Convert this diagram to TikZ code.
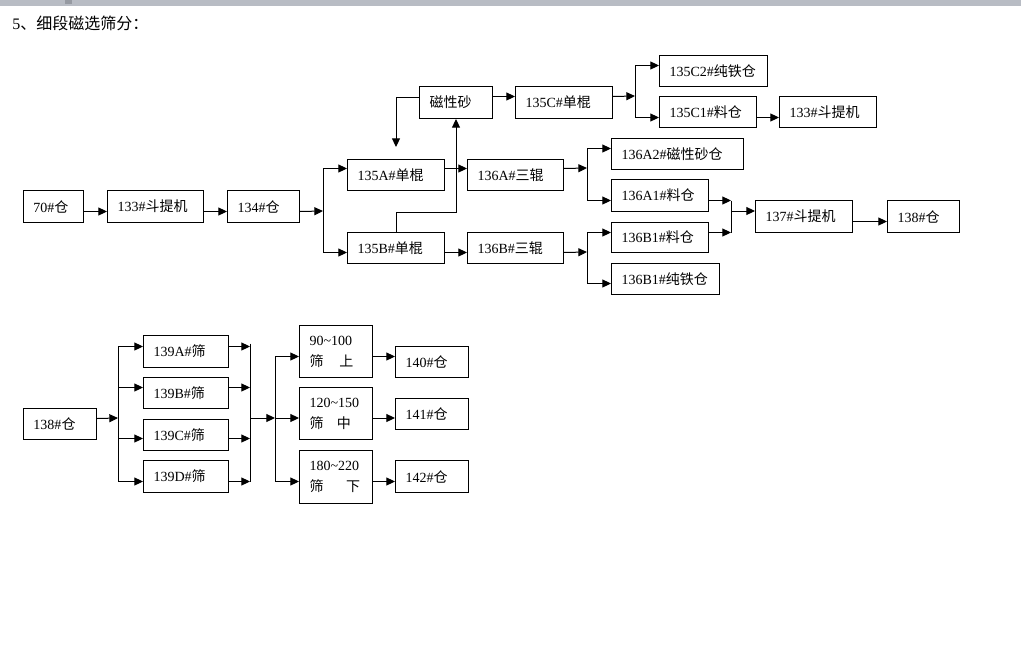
\documentclass[tikz,border=0pt]{standalone}
\usepackage{fontspec}
\setmainfont{Liberation Serif}
\newfontfamily\cjk{Noto Sans CJK SC}
\usetikzlibrary{arrows.meta}
\newcommand{\zh}[1]{{\cjk #1}}
\definecolor{barc}{RGB}{184,188,196}
\definecolor{barmark}{RGB}{150,154,162}
\begin{document}
\begin{tikzpicture}[x=0.75pt,y=-0.75pt,
  bx/.style 2 args={draw=black, line width=0.75pt, inner xsep=7.5pt, inner ysep=0pt,
    anchor=north west, align=left, minimum width={#1*0.75pt}, minimum height={#2*0.75pt},
    text width={(#1-20)*0.75pt}, font=\fontsize{10.5}{15.75}\selectfont},
  arr/.style={draw=black, line width=0.75pt, -{Triangle[length=6.5pt,width=6pt]}},
  ln/.style={draw=black, line width=0.75pt}]
\useasboundingbox (0,0) rectangle (1021,650);
\fill[white] (0,0) rectangle (1021,650);
\fill[barc] (0,0) rectangle (1021,5.5);
\fill[barmark] (65,0) rectangle (72,4);
\node[anchor=west, inner sep=0pt, font=\fontsize{12}{14}\selectfont] (title) at (12,23) {5\zh{、细段磁选筛分：}};

% top flow
\node[bx={60}{32}] (t70) at (23,190) {70\#\zh{仓}};
\node[bx={96}{32}] (b133) at (107,190) {133\#\zh{斗提机}};
\node[bx={72}{32}] (c134) at (227,190) {134\#\zh{仓}};
\node[bx={97}{31}] (a135A) at (347,159) {135A\#\zh{单棍}};
\node[bx={97}{31}] (a135B) at (347,232) {135B\#\zh{单棍}};
\node[bx={73}{32}] (cxs) at (419,86) {\zh{磁性砂}};
\node[bx={97}{32}] (a135C) at (515,86) {135C\#\zh{单棍}};
\node[bx={108}{31}] (c135C2) at (659,55) {135C2\#\zh{纯铁仓}};
\node[bx={97}{31}] (c135C1) at (659,96) {135C1\#\zh{料仓}};
\node[bx={97}{31}] (b133b) at (779,96) {133\#\zh{斗提机}};
\node[bx={96}{31}] (a136A) at (467,159) {136A\#\zh{三辊}};
\node[bx={96}{31}] (a136B) at (467,232) {136B\#\zh{三辊}};
\node[bx={132}{31}] (c136A2) at (611,138) {136A2\#\zh{磁性砂仓}};
\node[bx={97}{32}] (c136A1) at (611,179) {136A1\#\zh{料仓}};
\node[bx={97}{30}] (c136B1) at (611,222) {136B1\#\zh{料仓}};
\node[bx={108}{31}] (c136B1t) at (611,263) {136B1\#\zh{纯铁仓}};
\node[bx={97}{32}] (b137) at (755,200) {137\#\zh{斗提机}};
\node[bx={72}{32}] (c138) at (887,200) {138\#\zh{仓}};

% bottom flow
\node[bx={73}{31}] (d138) at (23,408) {138\#\zh{仓}};
\node[bx={85}{32}] (s139A) at (143,335) {139A\#\zh{筛}};
\node[bx={85}{31}] (s139B) at (143,377) {139B\#\zh{筛}};
\node[bx={85}{31}] (s139C) at (143,419) {139C\#\zh{筛}};
\node[bx={85}{32}] (s139D) at (143,460) {139D\#\zh{筛}};
\node[bx={73}{52}] (g1) at (299,325) {\mbox{90\textasciitilde100}\\\mbox{\zh{筛}\hspace{12pt}\zh{上}}};
\node[bx={73}{52}] (g2) at (299,387) {\mbox{120\textasciitilde150}\\\mbox{\zh{筛}\hspace{10pt}\zh{中}}};
\node[bx={73}{53}] (g3) at (299,450) {\mbox{180\textasciitilde220}\\\mbox{\zh{筛}\hspace{17pt}\zh{下}}};
\node[bx={73}{31}] (c140) at (395,346) {140\#\zh{仓}};
\node[bx={73}{31}] (c141) at (395,398) {141\#\zh{仓}};
\node[bx={73}{32}] (c142) at (395,460) {142\#\zh{仓}};

% junctions
\coordinate (j1) at (323,211);
\coordinate (j2) at (587,168);
\coordinate (j3) at (587,252);
\coordinate (j4) at (635,96);
\coordinate (m1) at (731,211);
\coordinate (k1) at (118,418);
\coordinate (k2) at (250,418);
\coordinate (k3) at (275,418);

% top connectors
\draw[arr] ([yshift=-3.75pt]t70.east) -- ([yshift=-3.75pt]t70.east -| b133.west);
\draw[arr] ([yshift=-3.75pt]b133.east) -- ([yshift=-3.75pt]b133.east -| c134.west);
\draw[arr] ([yshift=-3.75pt]c134.east) -- (j1);
\draw[arr] (j1) |- ([yshift=4.875pt]a135A.west);
\draw[arr] (j1) |- ([yshift=-3.375pt]a135B.west);
\draw[arr] ([yshift=4.875pt]a135A.east) -- ([yshift=4.875pt]a135A.east -| a136A.west);
\draw[arr] ([yshift=-3.375pt]a135B.east) -- ([yshift=-3.375pt]a135B.east -| a136B.west);
\draw[arr] ([yshift=4.875pt]a136A.east) -- (j2);
\draw[arr] (j2) |- ([yshift=4.125pt]c136A2.west);
\draw[arr] (j2) |- ([yshift=-3.75pt]c136A1.west);
\draw[arr] ([yshift=-3.375pt]a136B.east) -- (j3);
\draw[arr] (j3) |- ([yshift=3.75pt]c136B1.west);
\draw[arr] (j3) |- ([yshift=-3.375pt]c136B1t.west);
\draw[arr] ([yshift=-3.75pt]c136A1.east) -- ([yshift=-3.75pt]c136A1.east -| m1);
\draw[arr] ([yshift=3.75pt]c136B1.east) -- ([yshift=3.75pt]c136B1.east -| m1);
\draw[ln] ([yshift=-3.75pt]c136A1.east -| m1) -- ([yshift=3.75pt]c136B1.east -| m1);
\draw[arr] (m1) -- (m1 -| b137.west);
\draw[arr] ([yshift=-3.75pt]b137.east) -- ([yshift=-3.75pt]b137.east -| c138.west);
\draw[arr] ([yshift=4.5pt]cxs.east) -- ([yshift=4.5pt]cxs.east -| a135C.west);
\draw[arr] ([yshift=4.5pt]a135C.east) -- (j4);
\draw[arr] (j4) |- ([yshift=4.125pt]c135C2.west);
\draw[arr] (j4) |- ([yshift=-4.125pt]c135C1.west);
\draw[arr] ([yshift=-4.125pt]c135C1.east) -- ([yshift=-4.125pt]c135C1.east -| b133b.west);
\draw[arr, shorten >=9pt] ([yshift=3.75pt]cxs.west) -| (a135A.north);
\draw[arr] (a135B.north) -- ++(0,-20) -| (cxs.south);

% bottom connectors
\draw[arr] ([yshift=4.125pt]d138.east) -- (k1);
\draw[arr] (k1) |- ([yshift=3.75pt]s139A.west);
\draw[arr] (k1) |- ([yshift=4.125pt]s139B.west);
\draw[arr] (k1) |- ([yshift=-2.625pt]s139C.west);
\draw[arr] (k1) |- ([yshift=-3.75pt]s139D.west);
\draw[arr] ([yshift=3.75pt]s139A.east) -- ([yshift=3.75pt]s139A.east -| k2);
\draw[arr] ([yshift=4.125pt]s139B.east) -- ([yshift=4.125pt]s139B.east -| k2);
\draw[arr] ([yshift=-2.625pt]s139C.east) -- ([yshift=-2.625pt]s139C.east -| k2);
\draw[arr] ([yshift=-3.75pt]s139D.east) -- ([yshift=-3.75pt]s139D.east -| k2);
\draw[ln] ([yshift=6pt]s139A.east -| k2) -- ([yshift=-3.75pt]s139D.east -| k2);
\draw[arr] (k2) -- (k3);
\draw[arr] (k3) |- ([yshift=-3.75pt]g1.west);
\draw[arr] (k3) -- (k3 -| g2.west);
\draw[arr] (k3) |- ([yshift=-3.375pt]g3.west);
\draw[arr] ([yshift=-3.75pt]g1.east) -- ([yshift=-3.75pt]g1.east -| c140.west);
\draw[arr] (k3 -| g2.east) -- (k3 -| c141.west);
\draw[arr] ([yshift=-3.375pt]g3.east) -- ([yshift=-3.375pt]g3.east -| c142.west);
\end{tikzpicture}
\end{document}
